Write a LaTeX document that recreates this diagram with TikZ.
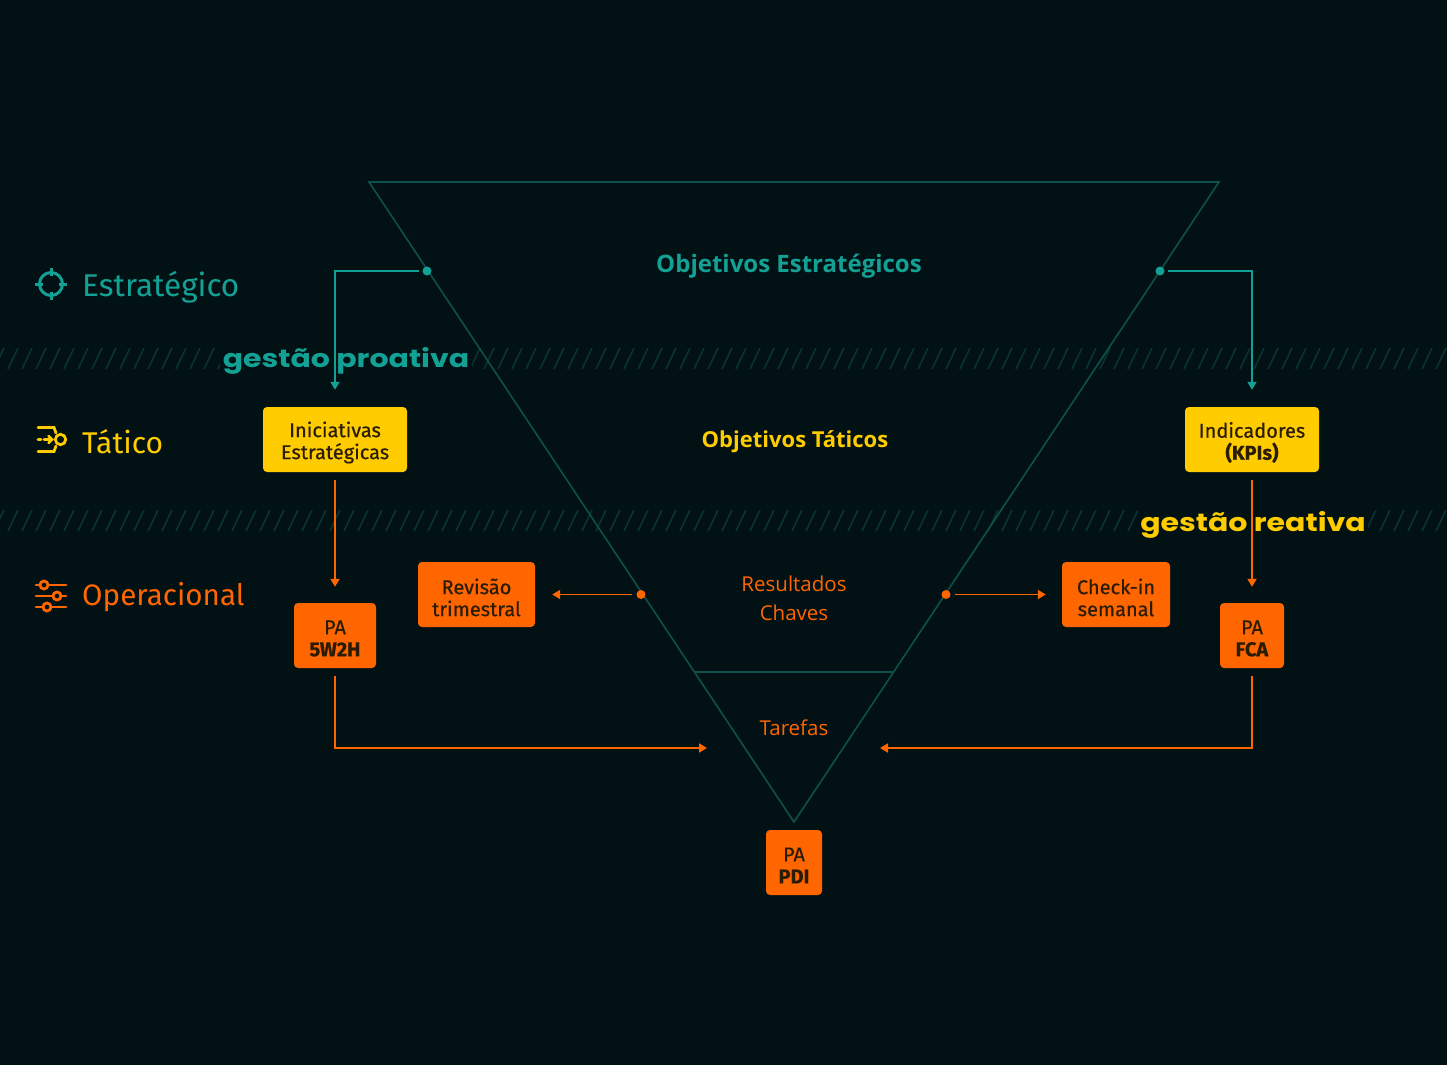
\documentclass[tikz,border=0pt]{standalone}
\usepackage{fontspec}
\setmainfont{Fira Sans}
\newfontfamily\osans{Open Sans}
\newfontfamily\widefont{Poppins}
\newfontfamily\boxfont[FakeBold=0.5]{Fira Sans}
\usetikzlibrary{arrows.meta}
\definecolor{bg}{HTML}{021114}
\definecolor{tealtxt}{HTML}{14A195}
\definecolor{tline}{HTML}{0F4F4C}
\definecolor{hatchc}{HTML}{0B3334}
\definecolor{yel}{HTML}{FFCC00}
\definecolor{ora}{HTML}{FF6600}
\definecolor{ink}{HTML}{2A1C05}
\tikzset{
  boxy/.style={fill=yel, rounded corners=4pt, inner sep=0pt},
  boxo/.style={boxy, fill=ora},
  boxtext/.style={inner sep=0pt, align=center, text=ink, font=\boxfont\fontsize{20}{22}\selectfont},
  tarrow/.style={draw=tealtxt, line width=1.8pt, -{Triangle[length=8pt,width=9pt]}},
  oarrow/.style={draw=ora, line width=1.8pt, -{Triangle[length=8pt,width=9pt]}},
  lvl/.style={anchor=west, inner sep=0pt, font=\fontsize{30}{32}\selectfont},
  hatchline/.style={draw=hatchc, line width=1.6pt},
  gest/.style={inner sep=2pt, fill=bg, xscale=1.2, font=\widefont\bfseries\fontsize{25}{28}\selectfont},
  inner/.style={inner sep=0pt, font=\osans\fontsize{20.5}{29}\selectfont, align=center},
}
\begin{document}
\begin{tikzpicture}[x=1pt,y=-1pt]
\fill[bg] (0,0) rectangle (1447,1065);
\useasboundingbox (0,0) rectangle (1447,1065);
% hatched bands
\begin{scope}
\clip (0,348) rectangle (1447,369);
\foreach \x in {-20,-6,...,1460} \draw[hatchline] (\x,369) -- (\x+10,348);
\end{scope}
\begin{scope}
\clip (0,510) rectangle (1447,531);
\foreach \x in {-20,-6,...,1460} \draw[hatchline] (\x,531) -- (\x+10,510);
\end{scope}
% triangle
\coordinate (TL) at (369,182);
\coordinate (TR) at (1219,182);
\coordinate (AP) at (794,822);
\draw[tline, line width=1.6pt, line join=miter] (TL) -- (TR) -- (AP) -- cycle;
\draw[tline, line width=1.6pt] (694,672) -- (894,672);
% inner labels
\node[inner, text=tealtxt, font=\osans\bfseries\fontsize{24}{28}\selectfont] (oe) at (789,266) {Objetivos Estratégicos};
\node[inner, text=yel, font=\osans\bfseries\fontsize{22}{26}\selectfont] (ot) at (795,442) {Objetivos Táticos};
\node[inner, text=ora] (rc) at (794,598) {Resultados\\Chaves};
\node[inner, text=ora] (tf) at (794,728) {Tarefas};
% level labels
\node[lvl, text=tealtxt, font=\fontsize{31.5}{33}\selectfont] (le) at (82,287) {Estratégico};
\node[lvl, text=yel] (lt) at (82,442) {Tático};
\node[lvl, text=ora, font=\fontsize{29.6}{32}\selectfont] (lo) at (82,597) {Operacional};
% icons
\begin{scope}[tealtxt, line width=3pt]
\draw (51,284) circle (11.5);
\draw (51,268) -- (51,276) (51,292) -- (51,300) (35,284) -- (43,284) (59,284) -- (67,284);
\end{scope}
\begin{scope}[yel, line width=2.8pt, line cap=round]
\draw (38,427.5) -- (54,427.5) -- (56,433);
\draw (38,451.5) -- (54,451.5) -- (56,446);
\draw (38,439.5) -- (41,439.5);
\draw (44,439.5) -- (51,439.5);
\draw (48.5,436) -- (52,439.5) -- (48.5,443);
\draw (60.5,439.5) circle (5.2);
\end{scope}
\begin{scope}[ora, line width=2.8pt, line cap=round]
\draw (36,585) -- (66,585) (36,596) -- (66,596) (36,607) -- (66,607);
\draw[fill=bg] (44,585) circle (4) (57,596) circle (4) (47,607) circle (4);
\end{scope}
% gestão labels
\node[gest, text=tealtxt] (gp) at (346,361) {gestão proativa};
\node[gest, text=yel] (gr) at (1253,525) {gestão reativa};
% boxes
\node[boxy, minimum width=144pt, minimum height=65pt] (ini) at (335,439.5) {};
\node[boxy, minimum width=134pt, minimum height=65pt] (kpi) at (1252,439.5) {};
\node[boxo, minimum width=117pt, minimum height=65pt] (rev) at (476.5,594.5) {};
\node[boxo, minimum width=108pt, minimum height=65pt] (chk) at (1116,594.5) {};
\node[boxo, minimum width=82pt, minimum height=65pt] (p5) at (335,635.5) {};
\node[boxo, minimum width=64pt, minimum height=65pt] (pf) at (1252,635.5) {};
\node[boxo, minimum width=56pt, minimum height=65pt] (pp) at (794,862.5) {};
\node[boxtext] (iniT) at ([yshift=-3pt]ini.center) {Iniciativas\\Estratégicas};
\node[boxtext] (kpiT) at ([yshift=-3pt]kpi.center) {Indicadores\\\textbf{(KPIs)}};
\node[boxtext] (revT) at ([yshift=-3pt]rev.center) {Revisão\\trimestral};
\node[boxtext] (chkT) at ([yshift=-3pt]chk.center) {Check-in\\semanal};
\node[boxtext] (p5T) at ([yshift=-3pt]p5.center) {PA\\\textbf{5W2H}};
\node[boxtext] (pfT) at ([yshift=-3pt]pf.center) {PA\\\textbf{FCA}};
\node[boxtext] (ppT) at ([yshift=-3pt]pp.center) {PA\\\textbf{PDI}};
% dots
\coordinate (dL) at (427,271);
\coordinate (dR) at (1160,271);
\coordinate (oL) at (641,594.5);
\coordinate (oR) at (946,594.5);
\fill[tealtxt] (dL) circle (4.5) (dR) circle (4.5);
\fill[ora] (oL) circle (4.5) (oR) circle (4.5);
% connectors
\draw[tarrow, shorten <=8pt, shorten >=17pt] (dL) -| (ini.north);
\draw[tarrow, shorten <=8pt, shorten >=17pt] (dR) -| (kpi.north);
\draw[oarrow, shorten <=8pt, shorten >=16pt] (ini.south) -- (p5.north);
\draw[oarrow, shorten <=8pt, shorten >=16pt] (kpi.south) -- (pf.north);
\draw[oarrow, shorten <=9pt, shorten >=17pt] (oL) -- (rev.east);
\draw[oarrow, shorten <=9pt, shorten >=16pt] (oR) -- (chk.west);
\coordinate (tL) at (707,748);
\coordinate (tR) at (880,748);
\draw[oarrow, shorten <=8pt] (p5.south) |- (tL);
\draw[oarrow, shorten <=8pt] (pf.south) |- (tR);
\end{tikzpicture}
\end{document}
